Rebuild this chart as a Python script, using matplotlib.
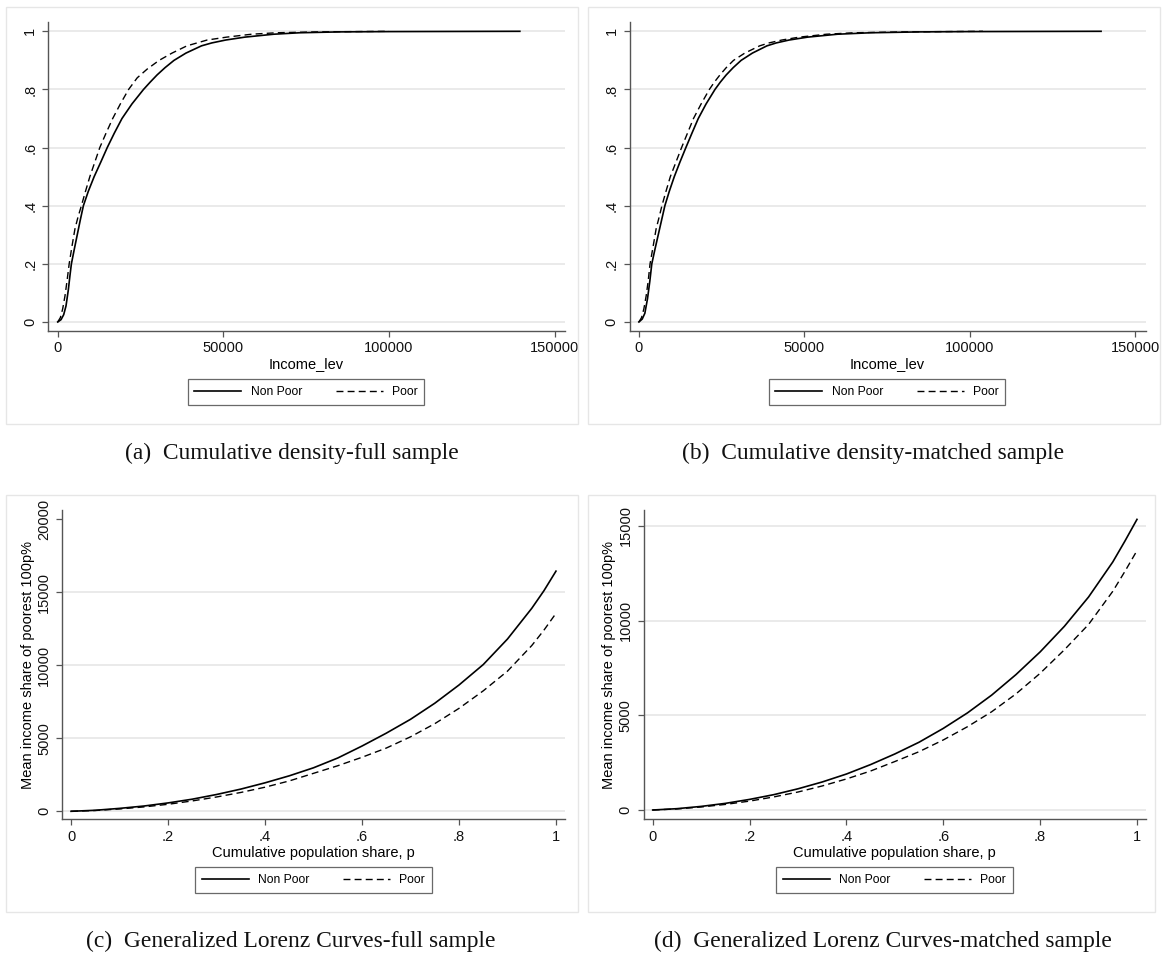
import matplotlib
matplotlib.use("Agg")
import matplotlib.pyplot as plt
from matplotlib.patches import Rectangle

plt.rcParams["font.family"] = ["Liberation Sans", "DejaVu Sans"]

W, H = 1167, 955

# ---- (a) cumulative density, full sample ----
a_np_income = [0, 1000, 1800, 2500, 3200, 3700, 4130, 5000, 5900, 6800, 7750, 9250, 11000,
               13000, 14950, 17100, 19400, 22400, 25900, 27900, 30000, 32400, 35100, 38700,
               43400, 46500, 50700, 56500, 65200, 73000, 85000, 100000, 139500]
a_np_cdf = [0, 0.008, 0.025, 0.055, 0.11, 0.16, 0.2, 0.25, 0.3, 0.35, 0.4, 0.45, 0.5,
            0.55, 0.6, 0.65, 0.7, 0.75, 0.8, 0.825, 0.85, 0.875, 0.9, 0.925,
            0.95, 0.96, 0.97, 0.98, 0.99, 0.995, 0.998, 0.999, 1.0]
a_p_income = [0, 800, 1500, 2200, 2800, 3460, 4300, 5200, 6100, 7150, 8400, 9700, 11200,
              12700, 14600, 16600, 18900, 21400, 24000, 27000, 30600, 34500, 39000, 45100,
              51000, 58500, 66000, 78000, 100000]
a_p_cdf = [0, 0.015, 0.045, 0.09, 0.14, 0.2, 0.26, 0.32, 0.36, 0.4, 0.45, 0.5, 0.55,
           0.6, 0.65, 0.7, 0.75, 0.8, 0.84, 0.87, 0.9, 0.925, 0.95, 0.97,
           0.98, 0.99, 0.995, 0.998, 1.0]

# ---- (b) cumulative density, matched sample ----
b_np_income = [0, 1000, 1800, 2600, 3300, 3900, 4850, 5850, 6850, 7850, 9200, 10700, 12400,
               14200, 16050, 17950, 20300, 23000, 24600, 26400, 28500, 30900, 34300, 38700,
               41500, 45400, 51000, 60000, 70000, 85000, 100000, 139700]
b_np_cdf = [0, 0.01, 0.03, 0.08, 0.14, 0.2, 0.25, 0.3, 0.35, 0.4, 0.45, 0.5, 0.55,
            0.6, 0.65, 0.7, 0.75, 0.8, 0.825, 0.85, 0.875, 0.9, 0.925, 0.95,
            0.96, 0.97, 0.98, 0.99, 0.995, 0.998, 0.999, 1.0]
b_p_income = [0, 800, 1500, 2200, 2800, 3370, 4300, 5200, 6100, 6960, 8200, 9500, 11200,
              12900, 14700, 16500, 18800, 21300, 22800, 24500, 26400, 28600, 32000, 36500,
              39300, 43200, 48500, 56700, 65000, 80000, 104000]
b_p_cdf = [0, 0.015, 0.045, 0.09, 0.14, 0.2, 0.26, 0.32, 0.36, 0.4, 0.45, 0.5, 0.55,
           0.6, 0.65, 0.7, 0.75, 0.8, 0.825, 0.85, 0.875, 0.9, 0.925, 0.95,
           0.96, 0.97, 0.98, 0.99, 0.995, 0.998, 1.0]

# ---- (c) generalized Lorenz, full sample ----
p_share = [0, 0.05, 0.1, 0.15, 0.2, 0.25, 0.3, 0.35, 0.4, 0.45, 0.5, 0.55, 0.6, 0.65,
           0.7, 0.75, 0.8, 0.85, 0.9, 0.95, 0.975, 1.0]
c_np_glc = [0, 70, 200, 360, 573, 830, 1150, 1520, 1950, 2430, 2980, 3650, 4470, 5350,
            6300, 7400, 8650, 10050, 11800, 13900, 15100, 16450]
c_p_glc = [0, 55, 160, 300, 480, 710, 980, 1290, 1650, 2080, 2600, 3120, 3700, 4330,
           5100, 6000, 7050, 8250, 9600, 11350, 12400, 13560]

# ---- (d) generalized Lorenz, matched sample ----
d_np_glc = [0, 70, 190, 350, 560, 810, 1120, 1480, 1900, 2400, 2960, 3580, 4310, 5130,
            6070, 7150, 8350, 9700, 11250, 13100, 14200, 15350]
d_p_glc = [0, 55, 160, 295, 470, 690, 950, 1270, 1640, 2060, 2560, 3080, 3700, 4400,
           5190, 6130, 7220, 8460, 9800, 11550, 12600, 13700]

cdf_ticks = [0, 0.2, 0.4, 0.6, 0.8, 1.0]
cdf_ticklabels = ["0", ".2", ".4", ".6", ".8", "1"]
income_ticks = [0, 50000, 100000, 150000]
share_ticks = [0, 0.2, 0.4, 0.6, 0.8, 1.0]
share_ticklabels = ["0", ".2", ".4", ".6", ".8", "1"]
c_yticks = [0, 5000, 10000, 15000, 20000]
d_yticks = [0, 5000, 10000, 15000]

captions = ["(a)  Cumulative density-full sample",
            "(b)  Cumulative density-matched sample",
            "(c)  Generalized Lorenz Curves-full sample",
            "(d)  Generalized Lorenz Curves-matched sample"]

fig = plt.figure(figsize=(W / 100, H / 100), dpi=100)
fig.patch.set_facecolor("white")


def px_axes(l, t, r, b):
    return fig.add_axes([l / W, 1 - b / H, (r - l) / W, (b - t) / H])


def frame(l, t, r, b):
    fig.patches.append(Rectangle((l / W, 1 - b / H), (r - l) / W, (b - t) / H,
                                 transform=fig.transFigure, fill=False,
                                 edgecolor="#e6e6e6", linewidth=1.0))


def style(ax, xlim, ylim, xt, xtl, yt, ytl, grid_vals):
    ax.set_xlim(*xlim)
    ax.set_ylim(*ylim)
    for s in ["top", "right"]:
        ax.spines[s].set_visible(False)
    for s in ["left", "bottom"]:
        ax.spines[s].set_color("#555555")
        ax.spines[s].set_linewidth(1.0)
    ax.set_xticks(xt)
    ax.set_xticklabels(xtl)
    ax.set_yticks(yt)
    ax.set_yticklabels(ytl, rotation=90, va="center")
    ax.tick_params(direction="out", length=4.5, width=0.9, color="#555555",
                   labelsize=10.5, labelcolor="#111111")
    ax.tick_params(axis="y", pad=3.5)
    ax.tick_params(axis="x", pad=3)
    for g in grid_vals:
        ax.axhline(g, color="#e8e8e8", linewidth=1.3, zorder=0)


def legend(ax, cx, cy):
    leg = ax.legend(ncol=2, loc="center", bbox_to_anchor=(cx / W, 1 - cy / H),
                    bbox_transform=fig.transFigure, fontsize=8.7, frameon=True,
                    fancybox=False, edgecolor="#444444", handlelength=3.9,
                    handletextpad=0.75, columnspacing=2.8, borderpad=0.55)
    leg.get_frame().set_linewidth(0.9)


def caption(cx, cy, text):
    fig.text(cx / W, 1 - cy / H, text, ha="center", va="center",
             family=["Liberation Serif", "DejaVu Serif"], fontsize=16.9, color="#111111")


solid = dict(color="black", linewidth=1.2, linestyle="-")
dashed = dict(color="black", linewidth=1.0, linestyle=(0, (5, 3)))

# panel frames
frame(6, 7, 578, 424)
frame(588, 7, 1160, 424)
frame(6, 495, 578, 912)
frame(588, 495, 1155, 912)

# (a)
ax = px_axes(48.3, 22.3, 565, 331)
ax.plot(a_np_income, a_np_cdf, label="Non Poor", **solid)
ax.plot(a_p_income, a_p_cdf, label="Poor", **dashed)
style(ax, (-2840, 153130), (-0.031, 1.031), income_ticks, [str(v) for v in income_ticks],
      cdf_ticks, cdf_ticklabels, cdf_ticks)
ax.set_xlabel("Income_lev", fontsize=10.5)
ax.xaxis.set_label_coords(0.5, -0.085)
legend(ax, 306, 392)

# (b)
ax = px_axes(629.5, 22.3, 1145.5, 331)
ax.plot(b_np_income, b_np_cdf, label="Non Poor", **solid)
ax.plot(b_p_income, b_p_cdf, label="Poor", **dashed)
style(ax, (-2840, 153130), (-0.031, 1.031), income_ticks, [str(v) for v in income_ticks],
      cdf_ticks, cdf_ticklabels, cdf_ticks)
ax.set_xlabel("Income_lev", fontsize=10.5)
ax.xaxis.set_label_coords(0.5, -0.085)
legend(ax, 887, 392)

# (c)
ax = px_axes(62.3, 510, 565, 819.3)
ax.plot(p_share, c_np_glc, label="Non Poor", **solid)
ax.plot(p_share, c_p_glc, label="Poor", **dashed)
style(ax, (-0.018, 1.0186), (-548, 20637), share_ticks, share_ticklabels,
      c_yticks, [str(v) for v in c_yticks], [0, 5000, 10000, 15000])
ax.set_xlabel("Cumulative population share, p", fontsize=10.5)
ax.xaxis.set_label_coords(0.5, -0.085)
ax.set_ylabel("Mean income share of poorest 100p%", fontsize=10.5, va="center")
ax.yaxis.set_label_coords(-0.069, 0.5)
legend(ax, 313.5, 880)

# (d)
ax = px_axes(643.7, 510, 1146, 819.3)
ax.plot(p_share, d_np_glc, label="Non Poor", **solid)
ax.plot(p_share, d_p_glc, label="Poor", **dashed)
style(ax, (-0.0186, 1.0186), (-491, 15845), share_ticks, share_ticklabels,
      d_yticks, [str(v) for v in d_yticks], d_yticks)
ax.set_xlabel("Cumulative population share, p", fontsize=10.5)
ax.xaxis.set_label_coords(0.5, -0.085)
ax.set_ylabel("Mean income share of poorest 100p%", fontsize=10.5, va="center")
ax.yaxis.set_label_coords(-0.069, 0.5)
legend(ax, 894.5, 880)

caption(292, 453, captions[0])
caption(873, 453, captions[1])
caption(291, 941, captions[2])
caption(883, 941, captions[3])

fig.savefig("out.png", dpi=100, facecolor="white")
